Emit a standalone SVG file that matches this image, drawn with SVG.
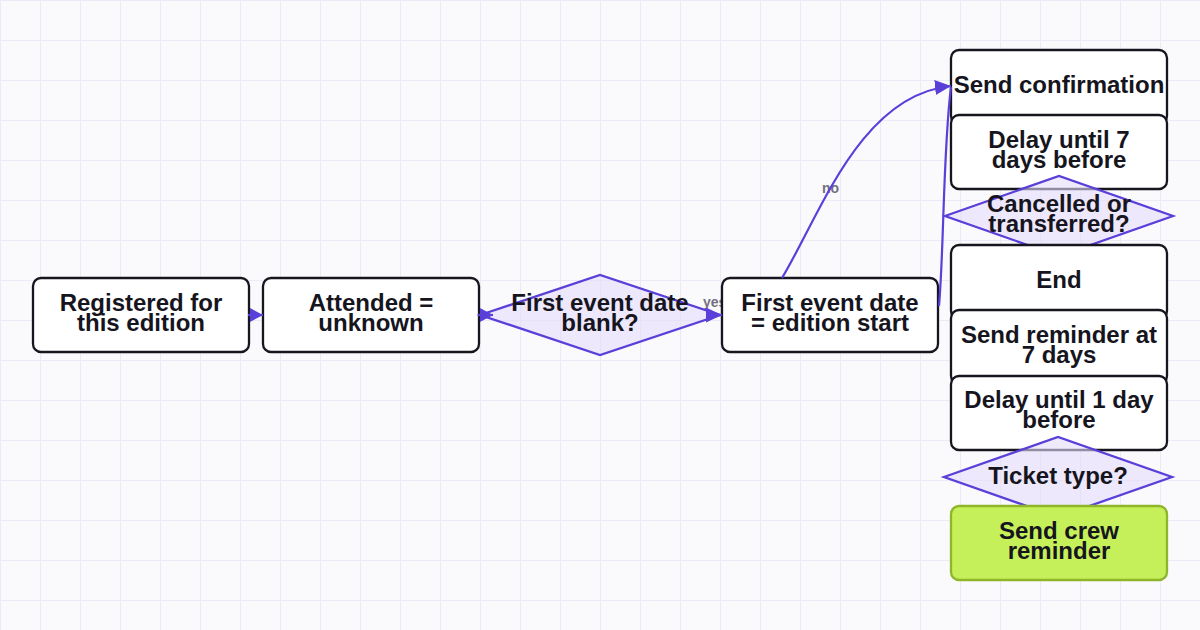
<svg xmlns="http://www.w3.org/2000/svg" width="1200" height="630" viewBox="0 0 1200 630">
<defs>
<pattern id="grid" width="40" height="40" patternUnits="userSpaceOnUse">
<path d="M0.5 0 V40 M0 0.5 H40" fill="none" stroke="#ECEAF6" stroke-width="1.2"/>
</pattern>
<marker id="arr" viewBox="0 0 13 14" refX="13" refY="7" markerWidth="13" markerHeight="14" markerUnits="userSpaceOnUse" orient="auto">
<path d="M0,0 L13,7 L0,14 z" fill="#5B3FD9"/>
</marker>
<marker id="arrL" viewBox="0 0 16 15" refX="16" refY="7.5" markerWidth="16" markerHeight="15" markerUnits="userSpaceOnUse" orient="auto">
<path d="M0,0 L16,7.5 L0,15 z" fill="#5B3FD9"/>
</marker>
<style>
.box{fill:#FFFFFF;stroke:#17161F;stroke-width:2.3}
.dia{fill:#E4DCFA;fill-opacity:0.6;stroke:#5B3FD9;stroke-width:2.3}
.crew{fill:#C6F05A;stroke:#8FB52A;stroke-width:2.3}
.t{font-family:"Liberation Sans",Arial,sans-serif;font-weight:700;font-size:24px;fill:#16151E;text-anchor:middle}
.edge{fill:none;stroke:#5B3FD9;stroke-width:2.2}
.lbl{font-family:"Liberation Sans",Arial,sans-serif;font-size:14px;font-weight:700;fill:#727080}
</style>
</defs>
<rect width="1200" height="630" fill="#FAFAFD"/>
<rect width="1200" height="630" fill="url(#grid)"/>

<g id="edge-labels">
<text class="lbl" x="703" y="307">yes</text>
<text class="lbl" x="822" y="193">no</text>
</g>

<g id="n1"><rect class="box" x="33" y="278" width="216" height="74" rx="8"/><text class="t" x="141" y="311">Registered for</text><text class="t" x="141" y="331">this edition</text></g>
<g id="n2"><rect class="box" x="263" y="278" width="216" height="74" rx="8"/><text class="t" x="371" y="311">Attended =</text><text class="t" x="371" y="331">unknown</text></g>
<g id="n3"><polygon class="dia" points="480,315 600,275 720,315 600,355"/><text class="t" x="600" y="311">First event date</text><text class="t" x="600" y="331">blank?</text></g>
<g id="n4"><rect class="box" x="722" y="278" width="216" height="74" rx="8"/><text class="t" x="830" y="311">First event date</text><text class="t" x="830" y="331">= edition start</text></g>
<g id="n5"><rect class="box" x="951" y="50" width="216" height="74" rx="8"/><text class="t" x="1059" y="93">Send confirmation</text></g>
<g id="n6"><rect class="box" x="951" y="115" width="216" height="74" rx="8"/><text class="t" x="1059" y="148">Delay until 7</text><text class="t" x="1059" y="168">days before</text></g>
<g id="n7"><polygon class="dia" points="945,216 1059,176 1173,216 1059,256"/><text class="t" x="1059" y="212">Cancelled or</text><text class="t" x="1059" y="232">transferred?</text></g>
<g id="n8"><rect class="box" x="951" y="245" width="216" height="74" rx="8"/><text class="t" x="1059" y="288">End</text></g>
<g id="n9"><rect class="box" x="951" y="310" width="216" height="74" rx="8"/><text class="t" x="1059" y="343">Send reminder at</text><text class="t" x="1059" y="363">7 days</text></g>
<g id="n10"><rect class="box" x="951" y="376" width="216" height="74" rx="8"/><text class="t" x="1059" y="408">Delay until 1 day</text><text class="t" x="1059" y="428">before</text></g>
<g id="n11"><polygon class="dia" points="944,477 1058,437 1172,477 1058,517"/><text class="t" x="1058" y="484">Ticket type?</text></g>
<g id="n12"><rect class="crew" x="951" y="506" width="216" height="74" rx="8"/><text class="t" x="1059" y="539">Send crew</text><text class="t" x="1059" y="559">reminder</text></g>

<g id="connectors">
<path class="edge" d="M248 315 L263 315" marker-end="url(#arr)"/>
<path class="edge" d="M478 315 L493 315" marker-end="url(#arr)"/>
<path class="edge" d="M706 315 L722 315" marker-end="url(#arrL)"/>
<path class="edge" d="M782 278 C820 215 860 95 951 86" marker-end="url(#arrL)"/>
<path class="edge" d="M939 306 C944 250 943 150 951 87"/>
</g>
</svg>
